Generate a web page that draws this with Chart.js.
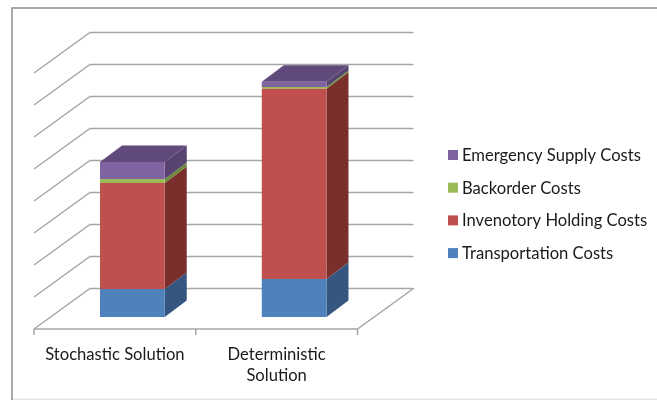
<!DOCTYPE html>
<html>
<head>
<meta charset="utf-8">
<style>
  html, body { margin: 0; padding: 0; background: #fff; }
  canvas { display: block; }
</style>
<script src="https://cdn.jsdelivr.net/npm/chart.js@4"></script>
</head>
<body>
<canvas id="costs" width="657" height="400"></canvas>
<script>
// Solution types along the floor of the chart
const categories = [["Stochastic Solution"], ["Deterministic", "Solution"]];

// Cost components, in units of one wall gridline
const transportationCosts = [0.875, 1.19];
const inventoryHoldingCosts = [3.31, 5.94];
const backorderCosts = [0.125, 0.06];
const emergencySupplyCosts = [0.53, 0.16];

const wallTicks = [0, 1, 2, 3, 4, 5, 6, 7, 8];

const FONT = "Lato, Carlito, Calibri, sans-serif";
const FONT_SIZE = 16.6;
const TEXT = "#1a1a1a";
const GRID = "#a6a6a6";
// Perspective offsets: bar depth, and where the bars sit on the floor
const BAR_DEPTH = { x: 22, y: 16.5 };
const TO_FRONT = { x: -17.5, y: 12 };
const TO_BACK = { x: 38.5, y: -28.5 };

const series = [
  { label: "Transportation Costs", data: transportationCosts, front: "#4f81bd", side: "#34567f", top: "#3f6797" },
  { label: "Invenotory Holding Costs", data: inventoryHoldingCosts, front: "#c0504d", side: "#7a2f2d", top: "#8f3b39" },
  { label: "Backorder Costs", data: backorderCosts, front: "#9bbb59", side: "#6c8a3a", top: "#7c9647" },
  { label: "Emergency Supply Costs", data: emergencySupplyCosts, front: "#8064a2", side: "#574270", top: "#604a7b" }
];

function poly(ctx, pts, fill) {
  ctx.beginPath();
  pts.forEach((p, i) => (i ? ctx.lineTo(p[0], p[1]) : ctx.moveTo(p[0], p[1])));
  ctx.closePath();
  ctx.fillStyle = fill;
  ctx.fill();
}

// Chart border, back and side walls, floor, and the extruded sides of the bars
const isometricWalls = {
  id: "isometricWalls",
  beforeDatasetsDraw(chart) {
    const { ctx, scales: { x, y }, width, height } = chart;
    ctx.save();
    ctx.lineWidth = 1.5;
    ctx.strokeStyle = "#e6e6e6";
    ctx.beginPath();
    ctx.moveTo(12, height - 0.75);
    ctx.lineTo(width, height - 0.75);
    ctx.stroke();
    ctx.strokeStyle = "#8f8f8f";
    ctx.beginPath();
    ctx.moveTo(12, height);
    ctx.lineTo(12, 8);
    ctx.lineTo(width, 8);
    ctx.stroke();

    ctx.strokeStyle = GRID;
    const frontL = x.left + TO_FRONT.x, frontR = x.right + TO_FRONT.x;
    const backL = x.left + TO_BACK.x, backR = x.right + TO_BACK.x;
    wallTicks.forEach(v => {
      const py = y.getPixelForValue(v);
      ctx.beginPath();
      ctx.moveTo(frontL, py + TO_FRONT.y);
      ctx.lineTo(backL, py + TO_BACK.y);
      ctx.lineTo(backR, py + TO_BACK.y);
      ctx.stroke();
    });
    // Floor front and right edges with category tick marks
    const fy = y.getPixelForValue(0) + TO_FRONT.y;
    const by = y.getPixelForValue(0) + TO_BACK.y;
    ctx.beginPath();
    ctx.moveTo(frontL, fy);
    ctx.lineTo(frontR, fy);
    ctx.lineTo(backR, by);
    const step = (frontR - frontL) / categories.length;
    for (let i = 0; i <= categories.length; i++) {
      ctx.moveTo(frontL + i * step, fy);
      ctx.lineTo(frontL + i * step, fy + 6);
    }
    ctx.stroke();

    // Side faces stacked bottom to top, then the cap on the top segment
    series.forEach((s, d) => {
      chart.getDatasetMeta(d).data.forEach(bar => {
        const r = bar.x + bar.width / 2;
        poly(ctx, [[r, bar.y], [r + BAR_DEPTH.x, bar.y - BAR_DEPTH.y],
                   [r + BAR_DEPTH.x, bar.base - BAR_DEPTH.y], [r, bar.base]], s.side);
      });
    });
    const last = series.length - 1;
    chart.getDatasetMeta(last).data.forEach(bar => {
      const l = bar.x - bar.width / 2, r = bar.x + bar.width / 2;
      poly(ctx, [[l, bar.y], [r, bar.y], [r + BAR_DEPTH.x, bar.y - BAR_DEPTH.y],
                 [l + BAR_DEPTH.x, bar.y - BAR_DEPTH.y]], series[last].top);
    });
    ctx.restore();
  },
  afterDraw(chart) {
    // Legend listed top to bottom in reverse stacking order
    const { ctx } = chart;
    ctx.save();
    ctx.font = FONT_SIZE + "px " + FONT;
    ctx.textBaseline = "middle";
    [...series].reverse().forEach((s, i) => {
      const cy = 155 + i * 32.7;
      ctx.fillStyle = s.front;
      ctx.fillRect(448, cy - 5, 10, 10);
      ctx.fillStyle = TEXT;
      ctx.fillText(s.label, 462, cy + 0.7);
    });
    ctx.restore();
  }
};

new Chart(document.getElementById("costs"), {
  type: "bar",
  data: {
    labels: categories,
    datasets: series.map(s => ({
      label: s.label,
      data: s.data,
      backgroundColor: s.front,
      borderWidth: 0,
      categoryPercentage: 1,
      barPercentage: 0.4
    }))
  },
  plugins: [isometricWalls],
  options: {
    responsive: false,
    animation: false,
    layout: { padding: { left: 51.5, right: 282, top: 61, bottom: 0 } },
    plugins: { legend: { display: false }, tooltip: { enabled: false } },
    scales: {
      x: {
        stacked: true,
        grid: { display: false },
        border: { display: false },
        afterFit(scale) { scale.height = 83; },
        ticks: {
          color: TEXT,
          font: { family: FONT, size: FONT_SIZE, lineHeight: 1.27 },
          padding: 19,
          labelOffset: TO_FRONT.x,
          maxRotation: 0,
          minRotation: 0,
          autoSkip: false
        }
      },
      y: { stacked: true, display: false, min: 0, max: 8, ticks: { stepSize: 1 } }
    }
  }
});
</script>
</body>
</html>
